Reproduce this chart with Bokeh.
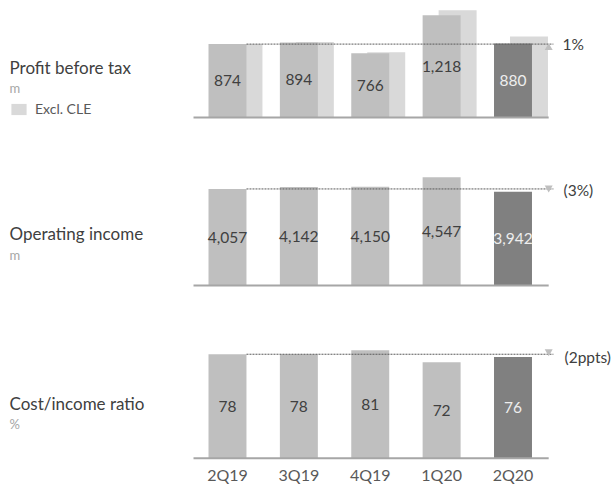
from bokeh.plotting import figure
from bokeh.models import Range1d, Label, Legend, LegendItem, ColumnDataSource
from bokeh.core.properties import value
from bokeh.embed import file_html
from bokeh.resources import INLINE

# ---------------- data ----------------
quarters = ["2Q19", "3Q19", "4Q19", "1Q20", "2Q20"]
profit_before_tax = [874, 894, 766, 1218, 880]
profit_excl_cle = [876, 900, 776, 1278, 964]
operating_income = [4057, 4142, 4150, 4547, 3942]
cost_income_ratio = [78, 78, 81, 72, 76]
changes = ["1%", "(3%)", "(2ppts)"]
change_dirs = ["up", "down", "down"]
panel_titles = ["Profit before tax", "Operating income", "Cost/income ratio"]
panel_units = ["m", "m", "%"]

FONT = "Lato"
MAIN = "#bfbfbf"
DARK = "#808080"
LIGHT = "#d9d9d9"

W, H = 612, 484
p = figure(width=W, height=H, output_backend="svg", toolbar_location=None,
           x_axis_type=None, y_axis_type=None, min_border=0,
           x_range=Range1d(-3.180, 5.394), y_range=Range1d(0, H))
p.outline_line_color = None
p.xgrid.visible = False
p.ygrid.visible = False

# each panel gets its own value range mapped onto the shared canvas
p.extra_y_ranges = {
    "pbt": Range1d(-4369, 1393),
    "oi": Range1d(-8361, 11975),
    "cir": Range1d(-19.73, 343.4),
}

xs = list(range(len(quarters)))
n = len(quarters)
bw = 0.532
off = 0.224
bar_colors = [MAIN] * (n - 1) + [DARK]
lbl_colors = ["#404040"] * (n - 1) + ["#eeeeee"]

panels = [("pbt", profit_before_tax), ("oi", operating_income), ("cir", cost_income_ratio)]

light_r = None
for k, (rn, vals) in enumerate(panels):
    if rn == "pbt":
        light_r = p.vbar(x=[x + off for x in xs], top=profit_excl_cle, bottom=0, width=bw,
                         fill_color=LIGHT, line_color=None, y_range_name=rn)
    src = ColumnDataSource(dict(x=xs, top=vals, color=bar_colors,
                                mid=[v / 2 for v in vals],
                                lbl=["{:,}".format(v) for v in vals],
                                tc=lbl_colors))
    p.vbar(x="x", top="top", bottom=0, width=bw, fill_color="color", line_color=None,
           source=src, y_range_name=rn)
    p.text(x="x", y="mid", text="lbl", text_color="tc", source=src,
           text_align="center", text_baseline="middle",
           text_font=value(FONT), text_font_size="15.5px", y_range_name=rn)
    # baseline
    p.segment(x0=[-0.476], y0=[0], x1=[n - 1 + 0.5], y1=[0],
              line_color="#a6a6a6", line_width=2, y_range_name=rn)
    # reference dashed line at the first quarter's level
    p.segment(x0=[bw / 2], y0=[vals[0]], x1=[n - 1 + 0.566], y1=[vals[0]],
              line_color="#595959", line_width=1, line_dash="2 1", y_range_name=rn)
    if change_dirs[k] == "up":
        p.scatter(x=[n - 1 + 0.5], y=[vals[0] * 0.95], marker="triangle", size=8,
                  fill_color="#bfbfbf", line_color=None, y_range_name=rn)
    else:
        ty = vals[0] + 2 if rn == "cir" else vals[0] * 1.012
        p.scatter(x=[n - 1 + 0.5], y=[ty], marker="inverted_triangle", size=8,
                  fill_color="#bfbfbf", line_color=None, y_range_name=rn)

# quarter labels under the bottom panel
p.text(x=xs, y=[0] * n, text=quarters, y_offset=16, text_align="center",
       text_baseline="middle", text_color="#595959", text_font=value(FONT),
       text_font_size="16px", y_range_name="cir")

# left titles
title_y = [417, 251, 81]
unit_y = [397, 230, 61]
for t, ty, u, uy in zip(panel_titles, title_y, panel_units, unit_y):
    p.add_layout(Label(x=9, y=ty, x_units="screen", y_units="screen", text=t,
                       text_font=FONT, text_font_size="17px", text_color="#404040",
                       text_baseline="middle"))
    p.add_layout(Label(x=9, y=uy, x_units="screen", y_units="screen", text=u,
                       text_font=FONT, text_font_size="13px", text_color="#a6a6a6",
                       text_baseline="middle"))

# change labels on the right
chg_x = [562, 563, 564]
chg_y = [441, 295, 128]
for c, cx, cy in zip(changes, chg_x, chg_y):
    p.add_layout(Label(x=cx, y=cy, x_units="screen", y_units="screen", text=c,
                       text_font=FONT, text_font_size="15.5px", text_color="#404040",
                       text_baseline="middle"))

legend = Legend(items=[LegendItem(label="Excl. CLE", renderers=[light_r])],
                location=(9, 367), orientation="vertical")
legend.border_line_color = None
legend.background_fill_alpha = 0
legend.padding = 0
legend.margin = 0
legend.spacing = 0
legend.glyph_width = 19
legend.glyph_height = 14
legend.label_height = 14
legend.label_standoff = 7
legend.label_text_font = FONT
legend.label_text_font_size = "14px"
legend.label_text_color = "#595959"
p.add_layout(legend)

open("out.html", "w").write(file_html(p, INLINE))
